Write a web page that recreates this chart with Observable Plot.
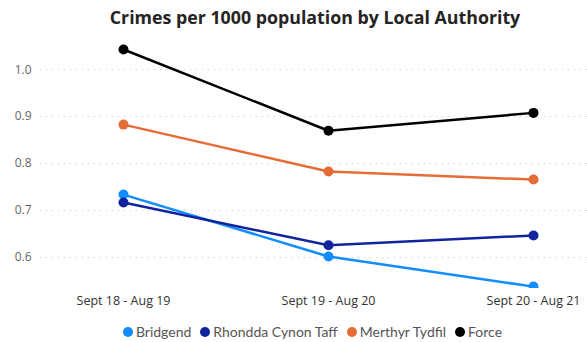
<!DOCTYPE html>
<html><head><meta charset="utf-8">
<script src="https://cdn.jsdelivr.net/npm/d3@7"></script>
<script src="https://cdn.jsdelivr.net/npm/@observablehq/plot@0.6"></script>
<style>
body{margin:0;background:#fff;font-family:"Open Sans",sans-serif;width:587px;height:342px;overflow:hidden}
#title{height:30px;line-height:34px;text-align:center;font-weight:700;font-size:17.8px;color:#252423;padding-left:43px;white-space:nowrap}
#legend{display:flex;justify-content:center;gap:9px;font-family:Lato,sans-serif;font-size:14px;color:#555;margin-top:8px;padding-left:38px}
#legend span{display:flex;align-items:center}
#legend i{display:inline-block;width:10px;height:10px;border-radius:50%;margin-right:3px}
</style></head><body>
<div id="title">Crimes per 1000 population by Local Authority</div>
<div id="chart"></div>
<div id="legend"></div>
<script>
const periods = ["Sept 18 - Aug 19", "Sept 19 - Aug 20", "Sept 20 - Aug 21"];
const seriesNames = ["Bridgend", "Rhondda Cynon Taff", "Merthyr Tydfil", "Force"];
const seriesColors = ["#118DFF", "#12239E", "#E66C37", "#000000"];
const bridgend = [0.734, 0.602, 0.538];
const rct = [0.717, 0.626, 0.647];
const merthyr = [0.883, 0.783, 0.766];
const force = [1.043, 0.870, 0.908];
const yTicks = [0.6, 0.7, 0.8, 0.9, 1.0];

const values = [bridgend, rct, merthyr, force];
const data = [];
seriesNames.forEach((s, i) => periods.forEach((p, j) => data.push({series: s, period: p, value: values[i][j]})));

const chart = Plot.plot({
  width: 587, height: 285,
  marginLeft: 40, marginRight: 0, marginTop: 11, marginBottom: 27,
  style: {fontFamily: "Open Sans, sans-serif", fontSize: "12px"},
  x: {type: "point", domain: periods, padding: 0.334, align: 0.606, label: null},
  y: {domain: [0.534, 1.06], label: null},
  color: {domain: seriesNames, range: seriesColors},
  marks: [
    Plot.gridY(yTicks, {stroke: "#c8c8c8", strokeOpacity: 1, strokeDasharray: "1 5", strokeWidth: 1}),
    Plot.axisY(yTicks, {tickSize: 0, tickPadding: 9, tickFormat: d3.format(".1f"), fill: "#666", fontSize: 12}),
    Plot.axisX({tickSize: 0, tickPadding: 8, fill: "#333", fontSize: 12.5}),
    Plot.line(data, {x: "period", y: "value", z: "series", stroke: "series", strokeWidth: 2.5}),
    Plot.dot(data, {x: "period", y: "value", fill: "series", r: 5, clip: true})
  ]
});
document.getElementById("chart").appendChild(chart);

const legend = document.getElementById("legend");
seriesNames.forEach((s, i) => {
  const el = document.createElement("span");
  el.innerHTML = `<i style="background:${seriesColors[i]}"></i>${s}`;
  legend.appendChild(el);
});
</script>
</body></html>
